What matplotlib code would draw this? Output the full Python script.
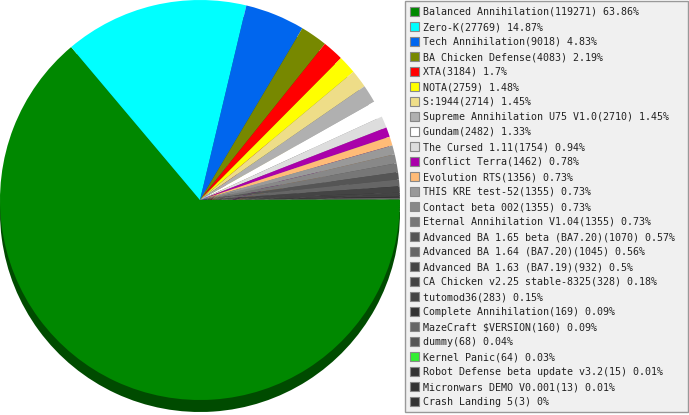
import matplotlib
matplotlib.use("Agg")
import matplotlib.pyplot as plt
from matplotlib.patches import Rectangle
from matplotlib.colors import to_rgb

names = [
    "Balanced Annihilation", "Zero-K", "Tech Annihilation", "BA Chicken Defense",
    "XTA", "NOTA", "S:1944", "Supreme Annihilation U75 V1.0", "Gundam",
    "The Cursed 1.11", "Conflict Terra", "Evolution RTS", "THIS KRE test-52",
    "Contact beta 002", "Eternal Annihilation V1.04",
    "Advanced BA 1.65 beta (BA7.20)", "Advanced BA 1.64 (BA7.20)",
    "Advanced BA 1.63 (BA7.19)", "CA Chicken v2.25 stable-8325", "tutomod36",
    "Complete Annihilation", "MazeCraft $VERSION", "dummy", "Kernel Panic",
    "Robot Defense beta update v3.2", "Micronwars DEMO V0.001", "Crash Landing 5",
]
counts = [119271, 27769, 9018, 4083, 3184, 2759, 2714, 2710, 2482, 1754, 1462,
          1356, 1355, 1355, 1355, 1070, 1045, 932, 328, 283, 169, 160, 68, 64,
          15, 13, 3]
percents = [63.86, 14.87, 4.83, 2.19, 1.7, 1.48, 1.45, 1.45, 1.33, 0.94, 0.78,
            0.73, 0.73, 0.73, 0.73, 0.57, 0.56, 0.5, 0.18, 0.15, 0.09, 0.09,
            0.04, 0.03, 0.01, 0.01, 0]
colors = [
    "#008800", "#00ffff", "#0066ee", "#778800", "#ff0000", "#ffff00", "#eedd88",
    "#b0b0b0", "#ffffff", "#dddddd", "#aa00aa", "#ffbb77", "#999999", "#888888",
    "#777777", "#555555", "#666666", "#444444", "#444444", "#444444", "#333333",
    "#666666", "#555555", "#33ee33", "#333333", "#333333", "#333333",
]

W, H = 689, 415
fig = plt.figure(figsize=(W / 100, H / 100), dpi=100)
ax = fig.add_axes([0, 0, 1, 1])
ax.set_xlim(0, W)
ax.set_ylim(0, H)
ax.set_axis_off()

cx, cy, r, depth = 200, H - 200, 200, 12

dark = [tuple(c * 0.55 for c in to_rgb(col)) for col in colors]
ax.pie(counts, colors=dark, center=(cx, cy - depth), radius=r,
       startangle=0, counterclock=False, frame=True,
       wedgeprops=dict(linewidth=0))
ax.pie(counts, colors=colors, center=(cx, cy), radius=r,
       startangle=0, counterclock=False, frame=True,
       wedgeprops=dict(linewidth=0))
ax.set_xlim(0, W)
ax.set_ylim(0, H)
ax.set_aspect("equal")
ax.set_axis_off()

# legend box
bx0, by0, bx1, by1 = 405, 1, 688, 412
ax.add_patch(Rectangle((bx0, H - by1), bx1 - bx0, by1 - by0,
                       facecolor="#f0f0f0", edgecolor="#999999", linewidth=1,
                       zorder=5))
for i, (n, c, p, col) in enumerate(zip(names, counts, percents, colors)):
    yc = 12 + 15 * i
    ax.add_patch(Rectangle((410, H - yc - 4.5), 9, 9, facecolor=col,
                           edgecolor="#888888", linewidth=0.8, zorder=6))
    ax.text(423, H - yc, f"{n}({c}) {p:g}%", fontsize=7.2,
            family="DejaVu Sans Mono", color="#222222", va="center",
            ha="left", zorder=7, parse_math=False)

fig.savefig("out.png", dpi=100)
